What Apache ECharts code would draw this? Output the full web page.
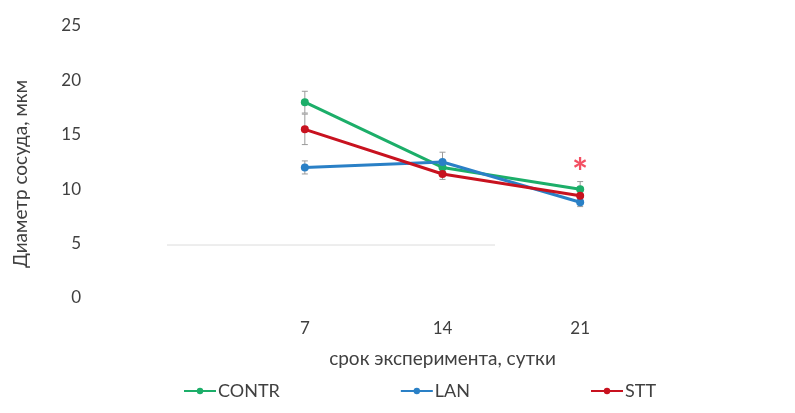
<!DOCTYPE html>
<html><head><meta charset="utf-8">
<script src="https://cdn.jsdelivr.net/npm/echarts@6/dist/echarts.min.js"></script>
<style>html,body{margin:0;padding:0;background:#fff}#c{width:795px;height:413px}</style>
</head><body><div id="c"></div>
<script>
const categories = ['7', '14', '21'];
const yTicks = [0, 5, 10, 15, 20, 25];
const contr = [18.0, 12.0, 10.0];
const lan = [12.0, 12.5, 8.8];
const stt = [15.5, 11.4, 9.4];
const contrErr = [1.0, 0.6, 0.7];
const lanErr = [0.6, 0.9, 0.4];
const sttErr = [1.4, 0.5, 0.4];
const significance = [[2, 11.4, '*']];

const colors = {CONTR: '#1cae69', LAN: '#2a80c6', STT: '#c8121f'};
const font = 'Lato, "Open Sans", sans-serif';
const txt = '#404040';

function errSeries(vals, errs) {
  return {
    type: 'custom', silent: true, z: 1,
    data: vals.map((v, i) => [i, v - errs[i], v + errs[i]]),
    renderItem: function (params, api) {
      const lo = api.coord([api.value(0), api.value(1)]);
      const hi = api.coord([api.value(0), api.value(2)]);
      const w = 3;
      const st = {stroke: '#9a9a9a', lineWidth: 1};
      return {type: 'group', children: [
        {type: 'line', shape: {x1: lo[0], y1: lo[1], x2: hi[0], y2: hi[1]}, style: st},
        {type: 'line', shape: {x1: lo[0]-w, y1: lo[1], x2: lo[0]+w, y2: lo[1]}, style: st},
        {type: 'line', shape: {x1: hi[0]-w, y1: hi[1], x2: hi[0]+w, y2: hi[1]}, style: st}
      ]};
    }
  };
}
function lineSeries(name, vals) {
  return {
    name: name, type: 'line', data: vals, z: 3,
    symbol: 'circle', symbolSize: 8,
    lineStyle: {width: 3, color: colors[name]},
    itemStyle: {color: colors[name]}
  };
}

const chart = echarts.init(document.getElementById('c'));
chart.setOption({
  animation: false,
  textStyle: {fontFamily: font},
  grid: {left: 236, right: 146, top: 26, bottom: 115},
  graphic: [{
    type: 'line', z: 0, silent: true,
    shape: {x1: 167, y1: 245, x2: 495, y2: 245},
    style: {stroke: '#dcdcdc', lineWidth: 1}
  }],
  legend: {
    bottom: 8, left: 178, itemGap: 120, itemWidth: 32, itemHeight: 8,
    data: ['CONTR', 'LAN', 'STT'],
    textStyle: {fontSize: 18, color: txt, fontFamily: font, padding: [0,0,0,-3]}
  },
  xAxis: {
    type: 'category', data: categories,
    axisLine: {show: false}, axisTick: {show: false},
    axisLabel: {fontSize: 17, color: txt, margin: 22},
    name: 'срок эксперимента, сутки', nameLocation: 'middle', nameGap: 51,
    nameTextStyle: {fontSize: 19, color: txt}
  },
  yAxis: {
    type: 'value', min: 0, max: 25, interval: 5,
    axisLine: {show: false}, axisTick: {show: false}, splitLine: {show: false},
    axisLabel: {fontSize: 17, color: txt, margin: 155,
      formatter: v => yTicks.includes(v) ? String(v) : ''},
    name: 'Диаметр сосуда, мкм', nameLocation: 'middle', nameGap: 206, nameRotate: 90,
    nameTextStyle: {fontSize: 19, color: txt, padding: [0, 24, 0, 0]}
  },
  series: [
    errSeries(contr, contrErr), errSeries(lan, lanErr), errSeries(stt, sttErr),
    lineSeries('CONTR', contr), lineSeries('LAN', lan), lineSeries('STT', stt),
    {
      type: 'scatter', data: significance, symbolSize: 0, silent: true, z: 4,
      label: {show: true, formatter: p => p.data[2], position: 'inside',
        fontSize: 38, color: '#f0243c', fontWeight: 'bold'}
    }
  ]
});
</script></body></html>
